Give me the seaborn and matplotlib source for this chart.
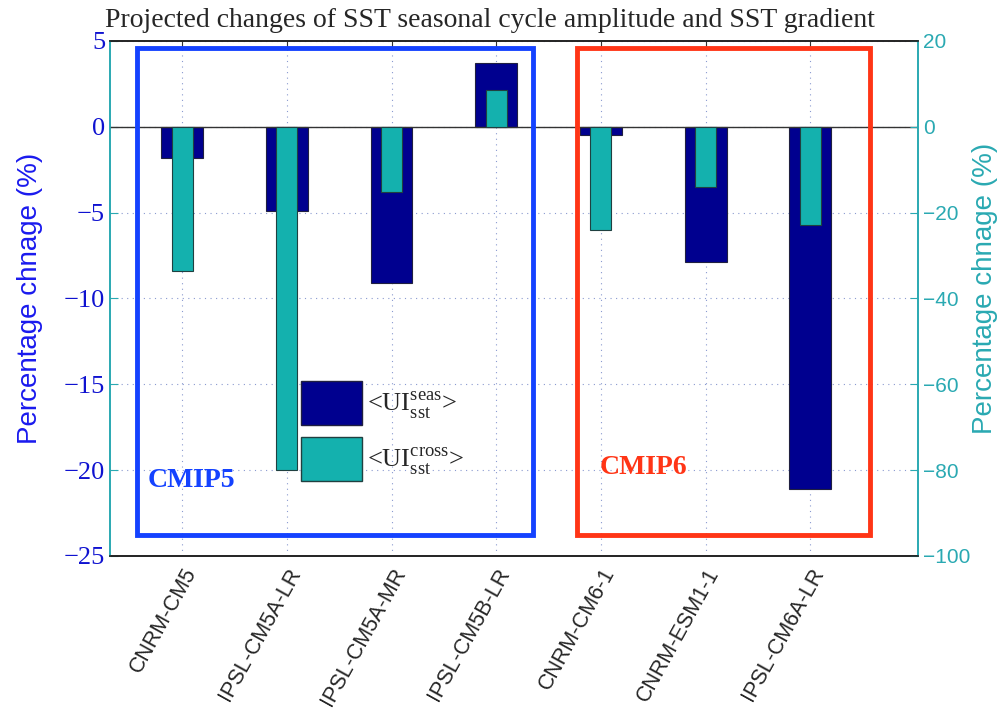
import matplotlib
matplotlib.use("Agg")
import matplotlib.pyplot as plt
import matplotlib.patches as mpatches
import seaborn as sns

# values
models = ["CNRM-CM5", "IPSL-CM5A-LR", "IPSL-CM5A-MR", "IPSL-CM5B-LR",
          "CNRM-CM6-1", "CNRM-ESM1-1", "IPSL-CM6A-LR"]
ui_seas = [-1.8, -4.9, -9.1, 3.7, -0.5, -7.85, -21.1]      # left axis (%)
ui_cross = [-33.7, -80.0, -15.3, 8.6, -24.0, -14.0, -22.8]  # right axis (%)
left_ticks = [-25, -20, -15, -10, -5, 0, 5]
right_ticks = [-100, -80, -60, -40, -20, 0, 20]

dark = "#00008f"
cyan = "#14b1ae"
teal = "#2aa9b2"
lblue = "#0f12d0"

sns.set_style("white")
plt.rcParams["xtick.direction"] = "in"
plt.rcParams["ytick.direction"] = "in"
plt.rcParams["mathtext.fontset"] = "custom"
plt.rcParams["mathtext.rm"] = "Liberation Serif"

fig = plt.figure(figsize=(9.99, 7.15), dpi=100)
ax = fig.add_axes([0.110, 0.2224, 0.809, 0.7203])
ax2 = ax.twinx()

sns.barplot(x=models, y=ui_seas, ax=ax, width=0.4, color=dark, saturation=1,
            edgecolor="#202040", linewidth=0.8, zorder=2)
sns.barplot(x=models, y=ui_cross, ax=ax2, width=0.2, color=cyan, saturation=1,
            edgecolor="#204040", linewidth=0.8, zorder=2)

ax.set_ylim(-25, 5)
ax2.set_ylim(-100, 20)
ax.set_xlim(-0.69, 7.03)
ax.set_yticks(left_ticks)
ax2.set_yticks(right_ticks)
ax.set_yticklabels(["\u221225", "\u221220", "\u221215", "\u221210", "\u22125", "0", "5"],
                   family="Liberation Serif", fontsize=19, color=lblue)
ax2.set_yticklabels(["\u2212100", "\u221280", "\u221260", "\u221240", "\u221220", "0", "20"],
                    family="Liberation Sans", fontsize=15, color=teal)
ax.set_xticks(range(len(models)))
ax.set_xticklabels(models, rotation=61, ha="right", rotation_mode="anchor",
                   family="Liberation Sans", fontsize=15.5)
ax2.set_xticks(range(len(models)))

ax.axhline(0, color="#333333", lw=1.0, zorder=3)
ax.grid(True, linestyle=(0, (1, 4)), color="#8a9ad0", lw=0.8)
ax.tick_params(axis="x", top=True, length=6, pad=6, color="#333333")
ax.tick_params(axis="y", length=6, color=teal)
ax2.tick_params(axis="y", length=6, color=teal)

for a in (ax, ax2):
    a.spines["top"].set_color("#222222")
    a.spines["bottom"].set_color("#222222")
    a.spines["left"].set_color(teal)
    a.spines["right"].set_color(teal)
    for s in a.spines.values():
        s.set_linewidth(1.2)

ax.set_ylabel("Percentage chnage (%)", family="Liberation Sans", fontsize=20,
              color="#1a1aee")
ax.yaxis.set_label_coords(-0.083, 0.5)
ax2.set_ylabel("Percentage chnage (%)", family="Liberation Sans", fontsize=20,
               color=teal)
ax2.yaxis.set_label_coords(1.067, 0.52)
fig.text(0.49, 0.962, "Projected changes of SST seasonal cycle amplitude and SST gradient",
         family="Liberation Serif", fontsize=20, ha="center", va="baseline")

# CMIP5 / CMIP6 group boxes
ax2.add_patch(mpatches.Rectangle((-0.43, -95.1), 3.78, 113.5, fill=False,
                                 edgecolor="#1442ff", lw=3.5, zorder=4))
ax2.add_patch(mpatches.Rectangle((3.77, -95.1), 2.80, 113.5, fill=False,
                                 edgecolor="#ff3516", lw=3.5, zorder=4))
ax.text(-0.33, -20.6, "CMIP5", color="#1442ff", family="Liberation Serif",
        fontweight="bold", fontsize=20, va="center")
ax.text(3.99, -19.85, "CMIP6", color="#ff3516", family="Liberation Serif",
        fontweight="bold", fontsize=20, va="center")

handles = [mpatches.Patch(facecolor=dark, edgecolor="#202040"),
           mpatches.Patch(facecolor=cyan, edgecolor="#204040")]
labels = [r"<UI$^{\mathrm{seas}}_{\mathrm{sst}}$>",
          r"<UI$^{\mathrm{cross}}_{\mathrm{sst}}$>"]
leg = ax2.legend(handles, labels, loc="upper left", bbox_to_anchor=(0.22, 0.366),
                 frameon=False, borderpad=0, handlelength=2.3, handleheight=2.2,
                 labelspacing=0.45, handletextpad=0.2,
                 prop={"family": "Liberation Serif", "size": 19})
leg.set_zorder(5)

fig.savefig("out.png", dpi=100)
